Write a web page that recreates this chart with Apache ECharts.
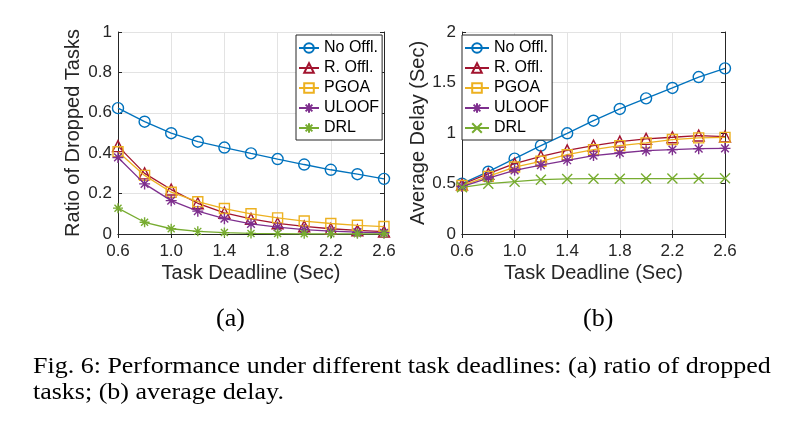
<!DOCTYPE html>
<html>
<head>
<meta charset="utf-8">
<script src="https://cdn.jsdelivr.net/npm/echarts@6/dist/echarts.min.js"></script>
<style>
  html, body { margin: 0; padding: 0; background: #fff; }
  #chart { width: 790px; height: 434px; }
</style>
</head>
<body>
<div id="chart"></div>
<script>
var deadlines = [0.6, 0.8, 1.0, 1.2, 1.4, 1.6, 1.8, 2.0, 2.2, 2.4, 2.6];
var methods = ['No Offl.', 'R. Offl.', 'PGOA', 'ULOOF', 'DRL'];

// (a) ratio of dropped tasks
var dropNoOffl = [0.623, 0.556, 0.499, 0.457, 0.428, 0.399, 0.371, 0.344, 0.318, 0.296, 0.273];
var dropROffl  = [0.435, 0.300, 0.220, 0.152, 0.105, 0.075, 0.053, 0.038, 0.026, 0.018, 0.012];
var dropPGOA   = [0.407, 0.290, 0.207, 0.160, 0.126, 0.100, 0.080, 0.064, 0.052, 0.043, 0.037];
var dropULOOF  = [0.379, 0.248, 0.165, 0.113, 0.076, 0.050, 0.034, 0.022, 0.014, 0.009, 0.006];
var dropDRL    = [0.128, 0.058, 0.026, 0.013, 0.007, 0.003, 0.002, 0.001, 0.001, 0.001, 0.001];

// (b) average delay
var delayNoOffl = [0.498, 0.617, 0.746, 0.875, 0.997, 1.122, 1.238, 1.343, 1.446, 1.554, 1.640];
var delayROffl  = [0.490, 0.597, 0.696, 0.769, 0.828, 0.875, 0.915, 0.942, 0.958, 0.975, 0.965];
var delayPGOA   = [0.480, 0.571, 0.663, 0.720, 0.785, 0.835, 0.875, 0.902, 0.935, 0.952, 0.957];
var delayULOOF  = [0.470, 0.554, 0.630, 0.682, 0.730, 0.776, 0.802, 0.825, 0.835, 0.845, 0.848];
var delayDRL    = [0.462, 0.498, 0.518, 0.538, 0.545, 0.548, 0.548, 0.549, 0.549, 0.550, 0.551];

var colors = ['#0072BD', '#A2142F', '#EDB120', '#7E2F8E', '#77AC30'];
var axisColor = '#262626';
var sans = 'Liberation Sans';
var serif = 'Liberation Serif';

var starPath = 'path://M5 0 L5 10 M0 5 L10 5 M1.5 1.5 L8.5 8.5 M1.5 8.5 L8.5 1.5';
var crossPath = 'path://M0 0 L10 10 M0 10 L10 0';
var symbolsA = ['circle', 'triangle', 'rect', starPath, starPath];
var symbolsB = ['circle', 'triangle', 'rect', starPath, crossPath];
var sizes = [11, 11, 10, 11, 10];

function pairs(ys) {
    return deadlines.map(function (x, i) { return [x, ys[i]]; });
}

function makeSeries(name, ys, idx, symbol, axisIdx) {
    return {
        name: name,
        type: 'line',
        xAxisIndex: axisIdx,
        yAxisIndex: axisIdx,
        data: pairs(ys),
        symbol: symbol,
        symbolSize: sizes[idx],
        showAllSymbol: true,
        clip: false,
        z: 2 + idx,
        lineStyle: { color: colors[idx], width: 1.3 },
        itemStyle: { color: 'rgba(255,255,255,0)', borderColor: colors[idx], borderWidth: 1.4 },
        emphasis: { disabled: true }
    };
}

function xAxisOf(grid, bottom) {
    return {
        type: 'value', gridIndex: grid, min: 0.6, max: 2.6, interval: 0.4,
        position: bottom ? 'bottom' : 'top',
        name: bottom ? 'Task Deadline (Sec)' : '',
        nameLocation: 'middle', nameGap: 29,
        nameTextStyle: { fontFamily: sans, fontSize: 20, color: axisColor },
        axisLine: { lineStyle: { color: axisColor, width: 1 } },
        axisTick: { inside: true, length: 4, lineStyle: { color: axisColor } },
        axisLabel: {
            show: bottom, fontFamily: sans, fontSize: 17, color: axisColor, margin: 9,
            formatter: function (v) { return v.toFixed(1); }
        },
        splitLine: { show: bottom, lineStyle: { color: '#e3e3e3' } }
    };
}

function yAxisOf(grid, left, max, interval, name, gap) {
    return {
        type: 'value', gridIndex: grid, min: 0, max: max, interval: interval,
        position: left ? 'left' : 'right',
        name: left ? name : '',
        nameLocation: 'middle', nameGap: gap,
        nameTextStyle: { fontFamily: sans, fontSize: 20, color: axisColor },
        axisLine: { show: true, lineStyle: { color: axisColor, width: 1 } },
        axisTick: { show: true, inside: true, length: 4, lineStyle: { color: axisColor } },
        axisLabel: { show: left, fontFamily: sans, fontSize: 17, color: axisColor, margin: 6 },
        splitLine: { show: left, lineStyle: { color: '#e3e3e3' } }
    };
}

function legendOf(left, names, iconWidth) {
    return {
        orient: 'vertical', left: left, top: 35,
        data: names,
        itemWidth: iconWidth, itemHeight: 12, itemGap: 4,
        padding: [5, 3, 4, 2],
        borderColor: axisColor, borderWidth: 1, backgroundColor: '#fff',
        selectedMode: false,
        textStyle: { fontFamily: sans, fontSize: 16, color: '#000' },
        formatter: function (n) { return n.replace(' (b)', ''); }
    };
}

var namesB = methods.map(function (m) { return m + ' (b)'; });
var dropData = [dropNoOffl, dropROffl, dropPGOA, dropULOOF, dropDRL];
var delayData = [delayNoOffl, delayROffl, delayPGOA, delayULOOF, delayDRL];

var series = [];
methods.forEach(function (m, i) {
    series.push(makeSeries(m, dropData[i], i, symbolsA[i], 0));
});
namesB.forEach(function (m, i) {
    series.push(makeSeries(m, delayData[i], i, symbolsB[i], 2));
});

const myChart = echarts.init(document.getElementById('chart'), null, { renderer: 'canvas' });
const option = {
    backgroundColor: '#fff',
    animation: false,
    grid: [
        { left: 118, top: 32, width: 266, height: 202 },
        { left: 462, top: 32, width: 263, height: 202 }
    ],
    xAxis: [xAxisOf(0, true), xAxisOf(0, false), xAxisOf(1, true), xAxisOf(1, false)],
    yAxis: [
        yAxisOf(0, true, 1, 0.2, 'Ratio of Dropped Tasks', 35),
        yAxisOf(0, false, 1, 0.2, '', 0),
        yAxisOf(1, true, 2, 0.5, 'Average Delay (Sec)', 34),
        yAxisOf(1, false, 2, 0.5, '', 0)
    ],
    legend: [legendOf(296, methods, 20), legendOf(462, namesB, 24)],
    graphic: [
        { type: 'text', left: 216, top: 306, style: { text: '(a)', font: '26px "' + serif + '"', fill: '#000' } },
        { type: 'text', left: 583, top: 306, style: { text: '(b)', font: '26px "' + serif + '"', fill: '#000' } },
        { type: 'text', x: 33, y: 355, scaleX: 1.13, style: { text: 'Fig. 6: Performance under different task deadlines: (a) ratio of dropped', font: '23px "' + serif + '"', fill: '#000' } },
        { type: 'text', x: 33, y: 381, scaleX: 1.13, style: { text: 'tasks; (b) average delay.', font: '23px "' + serif + '"', fill: '#000' } }
    ],
    series: series
};
myChart.setOption(option);
</script>
</body>
</html>
